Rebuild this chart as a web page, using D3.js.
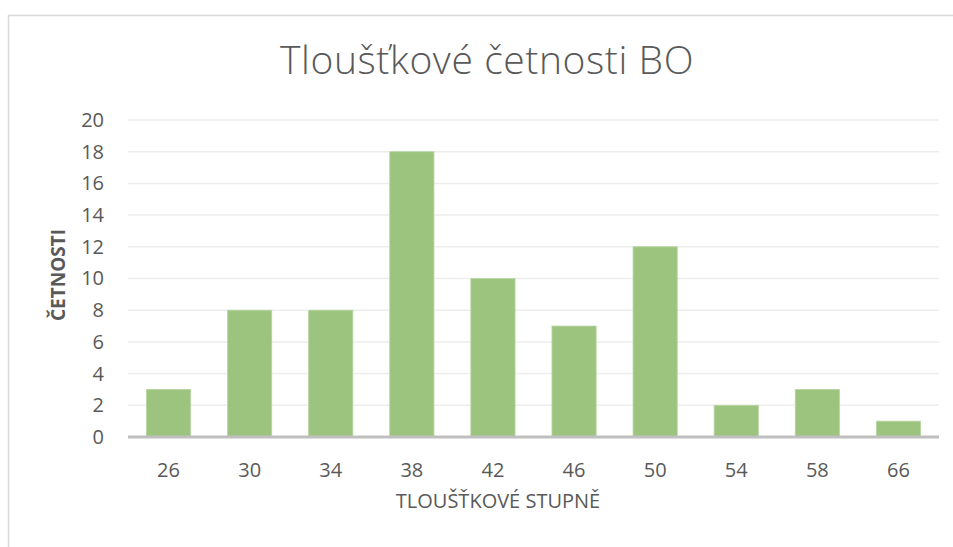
<!DOCTYPE html>
<html lang="cs">
<head>
<meta charset="UTF-8">
<title>Tloušťkové četnosti BO</title>
<script src="https://cdn.jsdelivr.net/npm/d3@7"></script>
<style>
  body { margin: 0; background: #fff; }
  svg { display: block; font-family: "Open Sans", "Noto Sans", sans-serif; }
</style>
</head>
<body>
<svg id="chart" width="953" height="547"></svg>
<script>
// data
var stupne = ["26", "30", "34", "38", "42", "46", "50", "54", "58", "66"];
var cetnosti = [3, 8, 8, 18, 10, 7, 12, 2, 3, 1];
var yTicks = [0, 2, 4, 6, 8, 10, 12, 14, 16, 18, 20];

var svg = d3.select("#chart");
var plotLeft = 128, plotRight = 939, plotTop = 120, plotBottom = 437;

// outer frame (only top and left show in the crop)
svg.append("rect")
  .attr("x", 8.5).attr("y", 15.5)
  .attr("width", 1000).attr("height", 600)
  .attr("fill", "none")
  .attr("stroke", "#d9d9d9")
  .attr("stroke-width", 1.5);

var x = d3.scaleBand().domain(stupne).range([plotLeft, plotRight]).paddingInner(0.455).paddingOuter(0.2275);
var y = d3.scaleLinear().domain([0, 20]).range([plotBottom, plotTop]);

// gridlines
svg.append("g")
  .selectAll("line")
  .data(yTicks.slice(1))
  .join("line")
  .attr("x1", plotLeft).attr("x2", plotRight)
  .attr("y1", function(d) { return y(d); })
  .attr("y2", function(d) { return y(d); })
  .attr("stroke", "#ededed")
  .attr("stroke-width", 1.5);

// bars
svg.append("g")
  .selectAll("rect")
  .data(cetnosti)
  .join("rect")
  .attr("x", function(d, i) { return x(stupne[i]); })
  .attr("width", x.bandwidth())
  .attr("y", function(d) { return y(d); })
  .attr("height", function(d) { return y(0) - y(d); })
  .attr("fill", "#9cc47e")
  .attr("stroke", "#b7d6a2")
  .attr("stroke-width", 0.8);

// y axis labels
var yAxis = d3.axisLeft(y).tickValues(yTicks).tickSize(0).tickPadding(24);
svg.append("g")
  .attr("transform", "translate(" + plotLeft + ",0)")
  .call(yAxis)
  .call(function(g) { g.select(".domain").remove(); })
  .selectAll("text")
  .attr("font-family", "Open Sans, sans-serif")
  .attr("font-size", 20)
  .attr("fill", "#595959");

// x axis
var xAxis = d3.axisBottom(x).tickSize(0).tickPadding(26);
svg.append("g")
  .attr("transform", "translate(0," + plotBottom + ")")
  .call(xAxis)
  .call(function(g) {
    g.select(".domain").attr("stroke", "#bfbfbf").attr("stroke-width", 3)
      .attr("d", "M" + plotLeft + ",0H" + plotRight);
  })
  .selectAll("text")
  .attr("font-family", "Open Sans, sans-serif")
  .attr("font-size", 20)
  .attr("fill", "#595959");

// title
svg.append("text")
  .attr("x", 487).attr("y", 74)
  .attr("text-anchor", "middle")
  .attr("font-size", 39)
  .attr("font-weight", 300)
  .attr("letter-spacing", 0.6)
  .attr("fill", "#595959")
  .text("Tloušťkové četnosti BO");

// axis titles
svg.append("text")
  .attr("transform", "translate(65,275) rotate(-90)")
  .attr("text-anchor", "middle")
  .attr("font-size", 19)
  .attr("font-weight", "bold")
  .attr("fill", "#595959")
  .text("ČETNOSTI");

svg.append("text")
  .attr("x", 498).attr("y", 508)
  .attr("text-anchor", "middle")
  .attr("font-size", 20)
  .attr("fill", "#595959")
  .text("TLOUŠŤKOVÉ STUPNĚ");
</script>
</body>
</html>
